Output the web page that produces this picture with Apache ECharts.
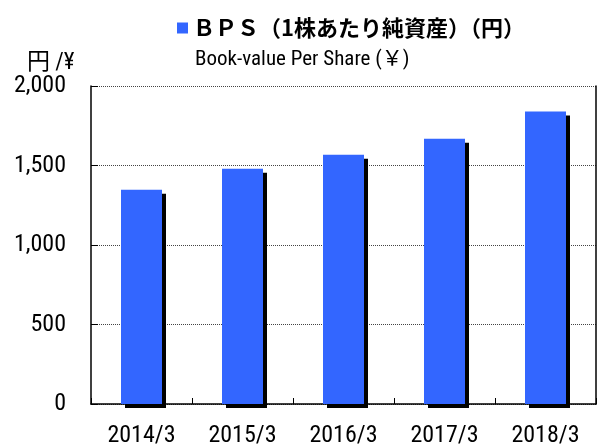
<!DOCTYPE html>
<html>
<head>
<meta charset="utf-8">
<script src="https://cdn.jsdelivr.net/npm/echarts@6/dist/echarts.min.js"></script>
<style>
html, body { margin: 0; padding: 0; background: #fff; }
#chart { width: 599px; height: 448px; }
</style>
</head>
<body>
<div id="chart"></div>
<script>
// BPS data (yen)
const categories = ['2014/3', '2015/3', '2016/3', '2017/3', '2018/3'];
const bpsValues = [1348, 1480, 1567, 1668, 1839];
const yTicks = [0, 500, 1000, 1500, 2000];
const seriesName = 'ＢＰＳ（1株あたり純資産）（円）';
const subTitle = 'Book-value Per Share (￥)';
const unitLabel = '円 /¥';

const narrow = "'Roboto Condensed', 'Liberation Sans Narrow', 'Arial Narrow', 'Noto Sans CJK JP', sans-serif";

let chart = echarts.init(document.getElementById('chart'));
chart.setOption({
  animation: false,
  backgroundColor: '#fff',
  title: [
    {
      text: subTitle,
      left: 190,
      top: 44,
      textStyle: { fontFamily: narrow, fontSize: 21, fontWeight: 'normal', color: '#000' }
    },
    {
      text: unitLabel,
      left: 22,
      top: 47,
      textStyle: { fontFamily: narrow, fontSize: 23, fontWeight: 'normal', color: '#000' }
    }
  ],
  legend: {
    left: 172,
    top: 12,
    icon: 'rect',
    itemWidth: 11,
    itemHeight: 11,
    textStyle: { fontFamily: "'Noto Sans CJK JP', sans-serif", fontSize: 22, fontWeight: 'bold', color: '#000' },
    data: [seriesName]
  },
  grid: { left: 91, right: 3, top: 86, bottom: 43 },
  xAxis: {
    type: 'category',
    data: categories,
    axisLine: { lineStyle: { color: '#000', width: 1.5 } },
    axisTick: { show: true, inside: true, length: 6, lineStyle: { color: '#000' } },
    axisLabel: { fontFamily: narrow, fontSize: 24, color: '#000', margin: 20, interval: 0 }
  },
  yAxis: [
    {
      type: 'value',
      min: yTicks[0],
      max: yTicks[yTicks.length - 1],
      interval: 500,
      axisLine: { show: true, lineStyle: { color: '#000', width: 1.5 } },
      axisTick: { show: true, inside: true, length: 7, lineStyle: { color: '#000' } },
      axisLabel: {
        fontFamily: narrow, fontSize: 24, color: '#000', margin: 25,
        formatter: v => v.toLocaleString('en-US')
      },
      splitLine: { show: true, lineStyle: { color: '#444', type: 'dotted', width: 1 } }
    },
    {
      type: 'value',
      position: 'right',
      min: yTicks[0],
      max: yTicks[yTicks.length - 1],
      interval: 500,
      axisLine: { show: true, lineStyle: { color: '#000', width: 1.5 } },
      axisTick: { show: false },
      axisLabel: { show: false },
      splitLine: { show: false }
    }
  ],
  series: [
    {
      name: seriesName,
      type: 'bar',
      data: bpsValues,
      barWidth: 41,
      itemStyle: {
        color: '#3366ff',
        shadowColor: '#000',
        shadowBlur: 0,
        shadowOffsetX: 4,
        shadowOffsetY: 4
      }
    }
  ]
});
</script>
</body>
</html>
